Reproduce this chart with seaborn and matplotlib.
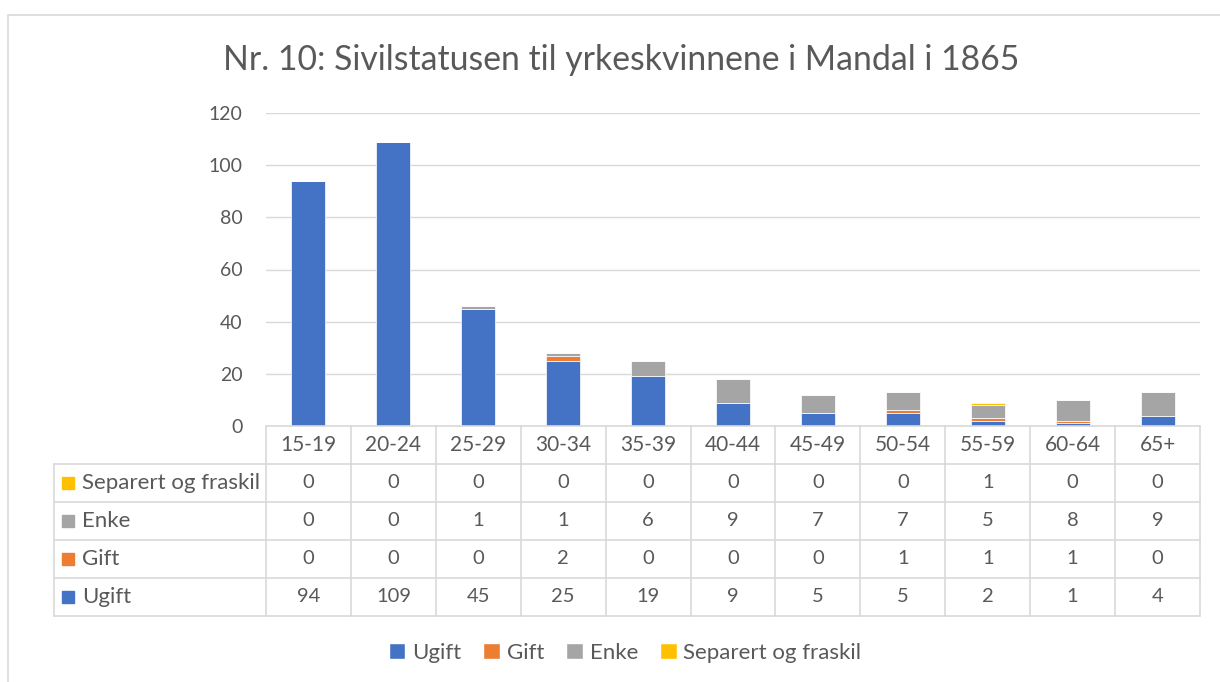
import numpy as np
import pandas as pd
import seaborn as sns
import matplotlib.pyplot as plt
from matplotlib.lines import Line2D
from matplotlib.patches import Rectangle, Patch
from matplotlib.transforms import blended_transform_factory

age_groups = ["15-19", "20-24", "25-29", "30-34", "35-39", "40-44",
              "45-49", "50-54", "55-59", "60-64", "65+"]
ugift = [94, 109, 45, 25, 19, 9, 5, 5, 2, 1, 4]
gift = [0, 0, 0, 2, 0, 0, 0, 1, 1, 1, 0]
enke = [0, 0, 1, 1, 6, 9, 7, 7, 5, 8, 9]
separert = [0, 0, 0, 0, 0, 0, 0, 0, 1, 0, 0]

series_names = ["Ugift", "Gift", "Enke", "Separert og fraskil"]
series_colors = ["#4472C4", "#ED7D31", "#A5A5A5", "#FFC000"]
title = "Nr. 10: Sivilstatusen til yrkeskvinnene i Mandal i 1865"

TEXT = "#595959"
GRID = "#d9d9d9"
W, H = 1220, 682

sns.set_theme(style="white")
plt.rcParams["font.family"] = ["Lato", "DejaVu Sans"]


def fx(px):
    return px / W


def fy(py):
    return 1 - py / H


df = pd.DataFrame({"Aldersgruppe": age_groups, "Ugift": ugift, "Gift": gift,
                   "Enke": enke, "Separert og fraskil": separert})

fig = plt.figure(figsize=(W / 100, H / 100), dpi=100)
ax = fig.add_axes([fx(266), fy(426), fx(1200) - fx(266), fy(113) - fy(426)])

bottom = np.zeros(len(age_groups))
for name, color in zip(series_names, series_colors):
    sns.barplot(data=df, x="Aldersgruppe", y=name, color=color, width=0.4,
                saturation=1, bottom=bottom, edgecolor="white", linewidth=0.5,
                ax=ax)
    bottom = bottom + df[name].to_numpy()

ax.set_xlim(-0.5, len(age_groups) - 0.5)
ax.set_ylim(0, 120)
ax.set_yticks(range(0, 121, 20))
ax.set_xticks([])
ax.set_xlabel("")
ax.set_ylabel("")
ax.grid(axis="y", color=GRID, linewidth=1)
ax.set_axisbelow(True)
for s in ax.spines.values():
    s.set_visible(False)
ax.tick_params(axis="y", length=0, pad=17, labelsize=14, labelcolor=TEXT)

# data table under the chart
trans = blended_transform_factory(ax.transData, fig.transFigure)
row_edges = [426, 464, 502, 540, 578, 616]
n = len(age_groups)
for i in range(n + 1):
    fig.add_artist(Line2D([i - 0.5, i - 0.5], [fy(426), fy(616)],
                          transform=trans, color=GRID, linewidth=1.2))
fig.add_artist(Line2D([fx(54), fx(54)], [fy(464), fy(616)],
                      transform=fig.transFigure, color=GRID, linewidth=1.2))
for k, yy in enumerate(row_edges):
    x0 = 266 if k == 0 else 54
    fig.add_artist(Line2D([fx(x0), fx(1200)], [fy(yy), fy(yy)],
                          transform=fig.transFigure, color=GRID, linewidth=1.2))

for i, lab in enumerate(age_groups):
    fig.text(i, fy(445), lab, transform=trans, ha="center", va="center",
             fontsize=15, color=TEXT)

table_rows = [("Separert og fraskil", separert, "#FFC000"),
              ("Enke", enke, "#A5A5A5"),
              ("Gift", gift, "#ED7D31"),
              ("Ugift", ugift, "#4472C4")]
for r, (name, vals, color) in enumerate(table_rows):
    yc = (row_edges[r + 1] + row_edges[r + 2]) / 2
    fig.add_artist(Rectangle((fx(62), fy(yc + 6)), fx(12), fy(yc - 6) - fy(yc + 6),
                             transform=fig.transFigure, color=color))
    fig.text(fx(82), fy(yc), name, ha="left", va="center", fontsize=16, color=TEXT)
    for i, v in enumerate(vals):
        fig.text(i, fy(yc), str(v), transform=trans, ha="center", va="center",
                 fontsize=14.5, color=TEXT)

handles = [Patch(facecolor=c, label=nm) for nm, c in zip(series_names, series_colors)]
fig.legend(handles=handles, loc="center", bbox_to_anchor=(fx(625), fy(653)),
           ncol=4, frameon=False, fontsize=16, labelcolor=TEXT,
           handlelength=0.75, handleheight=0.75, handletextpad=0.3,
           columnspacing=1.0)

fig.text(fx(621), fy(60), title, ha="center", va="center", fontsize=24.3, color=TEXT)

fig.add_artist(Rectangle((fx(8), fy(700)), fx(1300), fy(15) - fy(700),
                         transform=fig.transFigure, fill=False,
                         edgecolor=GRID, linewidth=1.2))

fig.savefig("out.png", dpi=100)
